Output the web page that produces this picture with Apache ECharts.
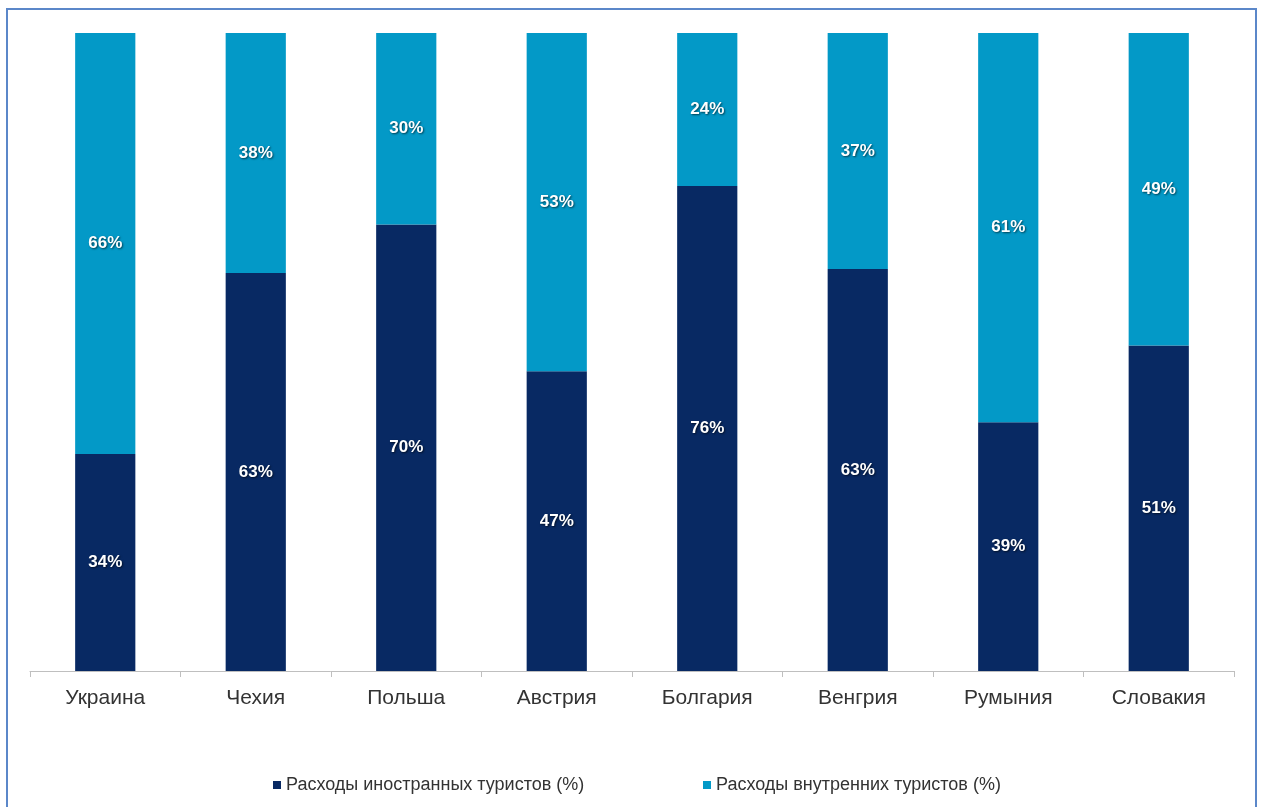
<!DOCTYPE html>
<html>
<head>
<meta charset="utf-8">
<script src="https://cdn.jsdelivr.net/npm/echarts@6/dist/echarts.min.js"></script>
<style>
html,body{margin:0;padding:0;background:#fff;}
#frame{position:absolute;left:6px;top:8px;width:1251px;height:820px;border:2px solid #5b87c9;box-sizing:border-box;}
#chart{position:absolute;left:0;top:0;width:1263px;height:807px;}
</style>
</head>
<body>
<div id="frame"></div>
<div id="chart"></div>
<script>
const categories = ['Украина','Чехия','Польша','Австрия','Болгария','Венгрия','Румыния','Словакия'];
const foreignSpend = [34, 63, 70, 47, 76, 63, 39, 51];
const domesticSpend = [66, 38, 30, 53, 24, 37, 61, 49];
const seriesNames = ['Расходы иностранных туристов (%)', 'Расходы внутренних туристов (%)'];

const totals = categories.map((c, i) => foreignSpend[i] + domesticSpend[i]);
const share = (arr) => arr.map((v, i) => v / totals[i]);

const labelStyle = {
  show: true,
  position: 'inside',
  color: '#ffffff',
  fontFamily: 'Liberation Sans, Arial, sans-serif',
  fontWeight: 'bold',
  fontSize: 17,
  textShadowColor: 'rgba(0,0,0,0.6)',
  textShadowBlur: 2,
  textShadowOffsetX: 1,
  textShadowOffsetY: 1
};

const legendBase = {
  top: 771,
  itemWidth: 8, itemHeight: 8,
  icon: 'rect',
  textStyle: {fontFamily: 'Liberation Sans, Arial, sans-serif', fontSize: 18, color: '#333'}
};

const chart = echarts.init(document.getElementById('chart'));
chart.setOption({
  animation: false,
  backgroundColor: 'transparent',
  grid: {left: 30, right: 29, top: 33, bottom: 136, containLabel: false},
  legend: [
    Object.assign({}, legendBase, {left: 268, data: [seriesNames[0]]}),
    Object.assign({}, legendBase, {left: 698, data: [seriesNames[1]]})
  ],
  xAxis: {
    type: 'category',
    data: categories,
    axisLine: {lineStyle: {color: '#bfbfbf', width: 1}},
    axisTick: {show: true, length: 6, lineStyle: {color: '#bfbfbf'}},
    axisLabel: {fontFamily: 'Liberation Sans, Arial, sans-serif', fontSize: 21, color: '#333', margin: 17}
  },
  yAxis: {type: 'value', min: 0, max: 1, show: false, splitLine: {show: false}},
  series: [
    {
      name: seriesNames[0], type: 'bar', stack: 'total', barWidth: '40%',
      itemStyle: {color: '#082963'},
      label: Object.assign({}, labelStyle, {formatter: (p) => foreignSpend[p.dataIndex] + '%'}),
      data: share(foreignSpend)
    },
    {
      name: seriesNames[1], type: 'bar', stack: 'total', barWidth: '40%',
      itemStyle: {color: '#0399c7'},
      label: Object.assign({}, labelStyle, {formatter: (p) => domesticSpend[p.dataIndex] + '%'}),
      data: share(domesticSpend)
    }
  ]
});
</script>
</body>
</html>
